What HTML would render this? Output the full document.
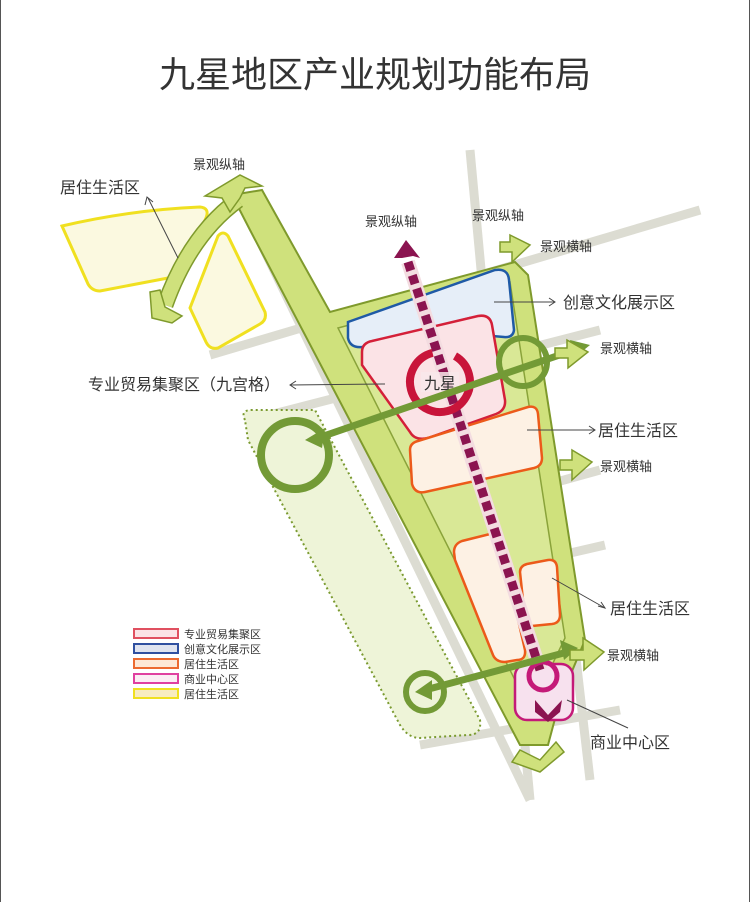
<!DOCTYPE html>
<html><head><meta charset="utf-8"><style>
html,body{margin:0;padding:0;background:#fff;}
svg{display:block;}
text{font-family:"Liberation Sans","Noto Sans CJK SC",sans-serif;fill:#333;}
</style></head><body>
<svg width="750" height="902" viewBox="0 0 750 902">
<rect x="0" y="0" width="750" height="902" fill="#fff"/>
<line x1="0.5" y1="0" x2="0.5" y2="902" stroke="#555"/>
<line x1="749.5" y1="0" x2="749.5" y2="902" stroke="#555"/>
<text x="375" y="87" font-size="36" text-anchor="middle" fill="#222">九星地区产业规划功能布局</text>

<!-- roads -->
<g stroke="#dcdcd2" stroke-width="9" fill="none">
<line x1="470" y1="150" x2="530" y2="800"/>
<line x1="240" y1="200" x2="530" y2="800"/>
<line x1="210" y1="355" x2="700" y2="210"/>
<line x1="250" y1="420" x2="600" y2="330"/>
<line x1="420" y1="520" x2="600" y2="470"/>
<line x1="420" y1="745" x2="620" y2="710"/>
<line x1="560" y1="520" x2="590" y2="780"/>
<line x1="540" y1="560" x2="605" y2="545"/>
</g>

<!-- yellow residential -->
<path d="M62,226 Q130,210 200,207 Q210,208 206,218 L182,270 Q178,278 168,278 L100,291 Q92,291 88,284 Z" fill="#fbf9e0" stroke="#f0e020" stroke-width="3"/>
<path d="M218,236 Q223,230 228,236 L265,312 Q267,320 260,324 L218,348 Q210,350 206,342 L190,308 Z" fill="#fbf9e0" stroke="#f0e020" stroke-width="3"/>

<!-- dotted zone -->
<path d="M245,420 Q240,410 252,410 L315,410 L480,720 Q482,735 468,735 L420,738 Q408,738 400,725 L248,440 Z" fill="#eef4d8" stroke="#7a9a30" stroke-width="2" stroke-dasharray="2,3"/>

<!-- green wedge -->
<path d="M232,195 L262,190 L330,312 L515,262 L528,275 L585,640 L560,700 L548,745 L520,745 L250,230 Z" fill="#cfe17c" stroke="#7f9a2c" stroke-width="2"/>
<path d="M338,328 L510,282 L565,638 L540,690 L520,690 Z" fill="#d9e896" stroke="#8aa33a" stroke-width="1.5"/>
<!-- left arm -->
<path d="M238,200 Q190,235 165,305" stroke="#7f9a2c" stroke-width="17" fill="none"/>
<path d="M238,200 Q190,235 165,305" stroke="#cfe17c" stroke-width="14" fill="none"/>

<!-- zones -->
<path d="M348,322 L495,270 Q508,268 509,280 L514,330 Q513,338 504,337 L492,336 Q484,316 470,318 L362,347 Q350,348 348,338 Z" fill="#e6eef8" stroke="#1f5aa6" stroke-width="2.5"/>
<path d="M362,352 Q362,343 372,341 L478,316 Q490,314 492,325 L505,400 Q506,410 496,414 L428,438 Q415,441 410,432 L362,365 Z" fill="#fbe3e6" stroke="#d42039" stroke-width="2.5"/>
<path d="M410,450 Q410,443 418,441 L528,407 Q537,405 538,414 L542,458 Q542,466 534,468 L425,492 Q415,494 412,484 Z" fill="#fdf1e4" stroke="#ec5a1a" stroke-width="2.5"/>
<path d="M454,552 Q454,544 462,541 L490,534 Q498,533 500,541 L525,650 Q526,660 517,660 L505,662 Q496,662 493,655 L455,560 Z" fill="#fdf1e4" stroke="#ec5a1a" stroke-width="2.5"/>
<path d="M520,572 Q520,566 527,564 L548,560 Q556,559 557,567 L560,615 Q560,623 552,624 L532,626 Q526,626 525,619 Z" fill="#fdf1e4" stroke="#ec5a1a" stroke-width="2.5"/>
<rect x="515" y="664" width="58" height="56" rx="12" fill="#f7e1ee" stroke="#c41a78" stroke-width="2.5"/>

<!-- magenta axis -->
<line x1="408" y1="262" x2="540" y2="670" stroke="#f3dce0" stroke-width="14"/>
<line x1="408" y1="262" x2="540" y2="670" stroke="#8b1450" stroke-width="9" stroke-dasharray="9,5"/>
<polygon points="406,240 420,258 413,256 402,258 394,258" fill="#8b1450"/>
<path d="M535,700 L548,715 L562,700 L560,712 L548,722 L535,712 Z" fill="#8b1450"/>
<circle cx="543" cy="676" r="14" fill="none" stroke="#c41a78" stroke-width="5"/>

<!-- 九星 ring -->
<circle cx="440" cy="382" r="30" fill="none" stroke="#c8153a" stroke-width="8" stroke-dasharray="165,30" transform="rotate(-60 440 382)"/>
<rect x="421" y="372" width="38" height="20" fill="#f8e8ea" opacity="0.85"/>
<text x="440" y="389" font-size="16" text-anchor="middle" fill="#7a1020">九星</text>

<!-- green axes -->
<g stroke="#739a36" fill="none">
<line x1="580" y1="348" x2="312" y2="440" stroke-width="7"/>
<circle cx="295" cy="455" r="34" stroke-width="8"/>
<circle cx="523" cy="362" r="24" stroke-width="6"/>
<line x1="575" y1="650" x2="425" y2="690" stroke-width="7"/>
<circle cx="425" cy="692" r="19" stroke-width="6"/>
</g>
<polygon points="305,440 325,428 322,448" fill="#739a36"/>
<polygon points="590,345 570,340 574,358" fill="#739a36"/>
<polygon points="415,692 432,680 432,700" fill="#739a36"/>
<polygon points="578,648 560,640 564,660" fill="#739a36"/>

<!-- chevron arrows -->
<g fill="#cfe17c" stroke="#7f9a2c" stroke-width="1.5">
<polygon points="205,196 240,175 262,186 245,188 240,198 230,212 222,198"/>
<polygon points="150,292 160,290 165,307 182,316 172,323 152,318"/>
<polygon points="510,235 530,245 512,262 512,252 500,252 500,242 510,242"/>
<polygon points="567,340 588,352 568,368 568,358 555,358 555,348 567,348"/>
<polygon points="572,450 592,462 572,480 572,470 560,470 560,460 572,460"/>
<polygon points="583,638 604,652 584,670 584,660 570,660 570,650 583,650"/>
<polygon points="520,750 540,760 556,742 564,752 540,772 512,762"/>
</g>

<!-- leader lines -->
<g stroke="#444" stroke-width="1" fill="none">
<line x1="148" y1="198" x2="178" y2="258"/>
<polyline points="145,205 147,197 153,202"/>
<line x1="494" y1="302" x2="555" y2="302"/>
<polyline points="549,298 555,302 549,306"/>
<line x1="385" y1="384" x2="290" y2="385"/>
<polyline points="296,381 290,385 296,389"/>
<line x1="527" y1="430" x2="595" y2="430"/>
<polyline points="589,426 595,430 589,434"/>
<line x1="552" y1="578" x2="605" y2="608"/>
<polyline points="598,606 605,608 601,602"/>
<line x1="567" y1="700" x2="628" y2="728"/>
</g>

<g font-size="13">
<text x="193" y="169">景观纵轴</text>
<text x="365" y="226">景观纵轴</text>
<text x="472" y="220">景观纵轴</text>
<text x="540" y="251">景观横轴</text>
<text x="600" y="353">景观横轴</text>
<text x="600" y="471">景观横轴</text>
<text x="607" y="660">景观横轴</text>
</g>
<g font-size="16">
<text x="60" y="193">居住生活区</text>
<text x="563" y="308">创意文化展示区</text>
<text x="88" y="390">专业贸易集聚区（九宫格）</text>
<text x="598" y="436">居住生活区</text>
<text x="610" y="614">居住生活区</text>
<text x="590" y="748">商业中心区</text>
</g>

<!-- legend -->
<g stroke-width="2">
<rect x="134" y="629" width="44" height="9" fill="#fbe3e6" stroke="#e05060"/>
<rect x="134" y="644" width="44" height="9" fill="#e0e4f0" stroke="#3050a0"/>
<rect x="134" y="659" width="44" height="9" fill="#fde8d6" stroke="#ec6a30"/>
<rect x="134" y="674" width="44" height="9" fill="#fbeef4" stroke="#e040a0"/>
<rect x="134" y="689" width="44" height="9" fill="#f8ecc0" stroke="#f0e020"/>
</g>
<g font-size="11" fill="#444">
<text x="184" y="638">专业贸易集聚区</text>
<text x="184" y="653">创意文化展示区</text>
<text x="184" y="668">居住生活区</text>
<text x="184" y="683">商业中心区</text>
<text x="184" y="698">居住生活区</text>
</g>
</svg>
</body></html>
